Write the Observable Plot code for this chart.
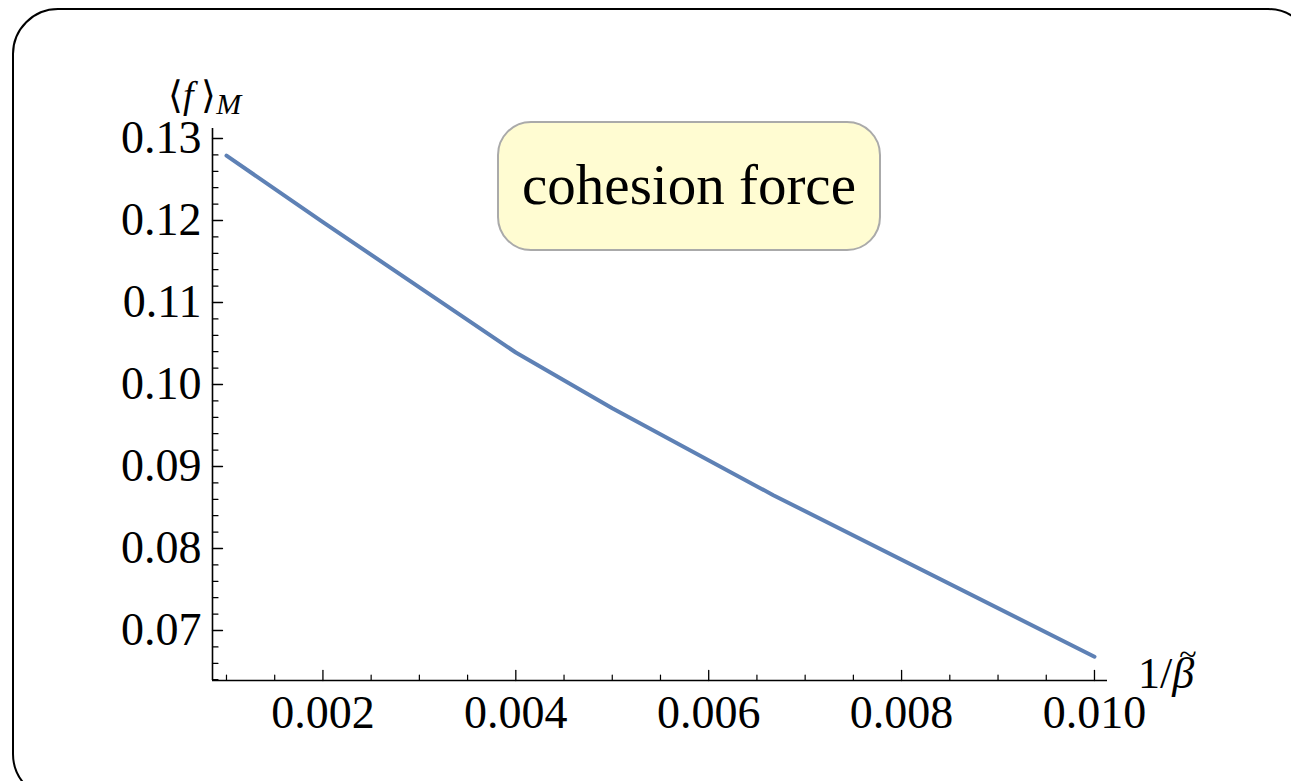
<!DOCTYPE html>
<html>
<head>
<meta charset="utf-8">
<script src="https://cdn.jsdelivr.net/npm/d3@7"></script>
<script src="https://cdn.jsdelivr.net/npm/@observablehq/plot@0.6"></script>
<style>
  html, body { margin: 0; padding: 0; background: #fff; overflow: hidden; }
  #wrap { position: relative; width: 1291px; height: 781px; font-family: "Liberation Serif", "DejaVu Serif", serif; }
  #frame { position: absolute; left: 12px; top: 8px; width: 1302px; height: 792px; box-sizing: border-box;
           border: 2.5px solid #000; border-radius: 46px; pointer-events: none; }
  #note { position: absolute; left: 497px; top: 121px; width: 384px; height: 130px; box-sizing: border-box;
          background: #fffcd2; border: 2.5px solid #aaa; border-radius: 34px;
          display: flex; align-items: center; justify-content: center;
          font-family: "Liberation Serif", serif; font-size: 57px; color: #000; padding-bottom: 4px; }
  .lab { position: absolute; font-family: "Liberation Serif", serif; color: #000; white-space: nowrap; line-height: 1; }
  .beta { position: relative; display: inline-block; font-style: italic; }
  .beta::after { content: "~"; position: absolute; left: 7px; top: -14px; font-style: normal; font-size: 32px; }
</style>
</head>
<body>
<div id="wrap"></div>
<script>
// Data
const invBeta = [0.001, 0.002, 0.004, 0.005, 0.00667, 0.010];
const force   = [0.1279, 0.1198, 0.1039, 0.0971, 0.0865, 0.0668];

// Axis ticks
const xMajor = [0.002, 0.004, 0.006, 0.008, 0.010];
const xMinor = [0.001, 0.0015, 0.0025, 0.003, 0.0035, 0.0045, 0.005, 0.0055, 0.0065, 0.007, 0.0075, 0.0085, 0.009, 0.0095];
const yMajor = [0.07, 0.08, 0.09, 0.10, 0.11, 0.12, 0.13];
const yMinor = [0.064, 0.066, 0.068, 0.072, 0.074, 0.076, 0.078, 0.082, 0.084, 0.086, 0.088,
                0.092, 0.094, 0.096, 0.098, 0.102, 0.104, 0.106, 0.108, 0.112, 0.114, 0.116, 0.118,
                0.122, 0.124, 0.126, 0.128];

const xDomain = [0.000855, 0.010135];
const yDomain = [0.0639, 0.13122];

const data = invBeta.map((x, i) => ({x, y: force[i]}));

const tickShape = {
  draw(context, l) { context.moveTo(0, 0); context.lineTo(0, -l); }
};

const chart = Plot.plot({
  width: 1291,
  height: 781,
  marginLeft: 212,
  marginRight: 184,
  marginTop: 128,
  marginBottom: 101,
  style: { fontFamily: "Liberation Serif, serif", fontSize: "46px", background: "transparent", color: "#000" },
  x: { domain: xDomain, label: null },
  y: { domain: yDomain, label: null },
  marks: [
    Plot.axisX({ ticks: xMajor, tickSize: 0, tickPadding: 15, tickFormat: d3.format(".3f"), lineAnchor: "top", fontSize: 46 }),
    Plot.axisY({ ticks: yMajor, tickSize: 0, tickPadding: 11, tickFormat: d3.format(".2f"), fontSize: 46 }),
    // inward ticks
    Plot.vector(xMajor, { x: d => d, y: () => yDomain[0], length: 10, anchor: "start", rotate: 0, shape: tickShape, stroke: "#000", strokeWidth: 1.3 }),
    Plot.vector(xMinor, { x: d => d, y: () => yDomain[0], length: 5.5, anchor: "start", rotate: 0, shape: tickShape, stroke: "#000", strokeWidth: 1.2 }),
    Plot.vector(yMajor, { x: () => xDomain[0], y: d => d, length: 10, anchor: "start", rotate: 90, shape: tickShape, stroke: "#000", strokeWidth: 1.3 }),
    Plot.vector(yMinor, { x: () => xDomain[0], y: d => d, length: 5.5, anchor: "start", rotate: 90, shape: tickShape, stroke: "#000", strokeWidth: 1.2 }),
    // axis lines
    Plot.ruleY([yDomain[0]], { stroke: "#000", strokeWidth: 1.6 }),
    Plot.ruleX([xDomain[0]], { stroke: "#000", strokeWidth: 1.6 }),
    // data line
    Plot.line(data, { x: "x", y: "y", stroke: "#5e81b5", strokeWidth: 4 })
  ]
});

const wrap = document.getElementById("wrap");
chart.style.position = "absolute";
chart.style.left = "0px";
chart.style.top = "0px";
wrap.appendChild(chart);

const frame = document.createElement("div");
frame.id = "frame";
wrap.appendChild(frame);

const note = document.createElement("div");
note.id = "note";
note.textContent = "cohesion force";
wrap.appendChild(note);

const ylab = document.createElement("div");
ylab.className = "lab";
ylab.style.left = "168px";
ylab.style.top = "76px";
ylab.style.fontSize = "38px";
ylab.innerHTML = "⟨<i>f</i>&thinsp;⟩<span style=\"font-size:30px;font-style:italic;position:relative;top:6px\">M</span>";
wrap.appendChild(ylab);

const xlab = document.createElement("div");
xlab.className = "lab";
xlab.style.left = "1138px";
xlab.style.top = "652px";
xlab.style.fontSize = "44px";
xlab.innerHTML = "1/<span class=\"beta\">β</span>";
wrap.appendChild(xlab);
</script>
</body>
</html>
